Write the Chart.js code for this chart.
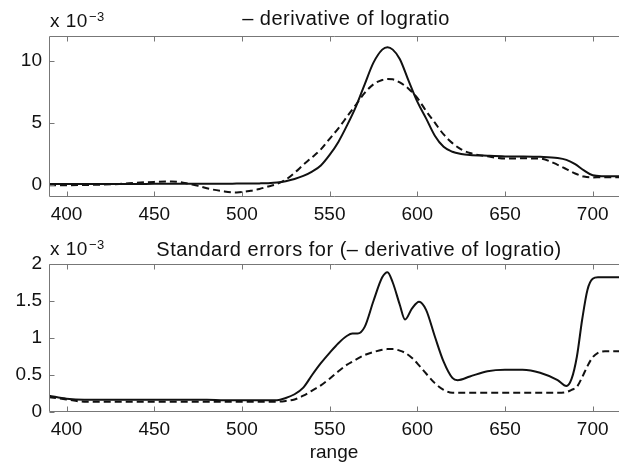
<!DOCTYPE html>
<html>
<head>
<meta charset="utf-8">
<script src="https://cdn.jsdelivr.net/npm/chart.js@4/dist/chart.umd.min.js"></script>
<style>
  html, body { margin: 0; padding: 0; background: #fff; }
  #wrap { position: relative; width: 619px; height: 464px; }
  canvas { position: absolute; left: 0; }
</style>
</head>
<body>
<div id="wrap">
  <canvas id="chartTop" width="619" height="235" style="top:0"></canvas>
  <canvas id="chartBottom" width="619" height="244" style="top:220px"></canvas>
</div>
<script>
// wavelengths (range) and values in units of 10^-3
const topX = [390, 400, 410, 420, 430, 440, 450, 460, 465, 470,
              475, 480, 490, 497, 505, 510, 515, 520, 525, 530,
              535, 540, 545, 550, 555, 560, 565, 570, 575, 580,
              583, 586, 590, 595, 600, 605, 610, 615, 620, 625,
              630, 640, 650, 660, 670, 680, 685, 690, 695, 700,
              705, 715];
const topSolid = [0.05, 0.05, 0.05, 0.05, 0.05, 0.05, 0.06, 0.06, 0.06, 0.06,
                  0.07, 0.07, 0.07, 0.08, 0.09, 0.10, 0.12, 0.17, 0.28, 0.45,
                  0.70, 1.05, 1.55, 2.4, 3.45, 4.80, 6.30, 8.10, 9.85, 10.9,
                  11.1, 10.9, 10.15, 8.4, 6.7, 5.35, 3.95, 3.05, 2.65, 2.48,
                  2.40, 2.33, 2.28, 2.27, 2.24, 2.15, 2.00, 1.65, 1.15, 0.75,
                  0.68, 0.68];
const topDashed = [-0.05, -0.05, -0.03, 0.0, 0.05, 0.15, 0.22, 0.25, 0.2, 0.05,
                   -0.1, -0.3, -0.55, -0.63, -0.5, -0.35, -0.15, 0.05, 0.4, 0.95,
                   1.6, 2.2, 2.85, 3.7, 4.55, 5.5, 6.45, 7.4, 8.1, 8.45,
                   8.53, 8.5, 8.25, 7.75, 7.0, 5.95, 5.0, 4.05, 3.35, 2.85,
                   2.55, 2.28, 2.1, 2.12, 2.1, 1.6, 1.25, 0.9, 0.65, 0.58,
                   0.6, 0.6];

const botX = [390, 400, 410, 420, 430, 440, 450, 460, 470, 480,
              490, 500, 510, 520, 525, 530, 535, 540, 545, 550,
              555, 560, 563, 566, 570, 575, 580, 583, 586, 590,
              593, 597, 601, 605, 610, 615, 620, 623, 630, 640,
              650, 660, 670, 680, 685, 688, 691, 694, 697, 700,
              703, 707, 715];
const botSolid = [0.22, 0.18, 0.165, 0.165, 0.165, 0.165, 0.165, 0.165, 0.165, 0.165,
                  0.16, 0.16, 0.16, 0.16, 0.19, 0.24, 0.33, 0.5, 0.66, 0.8,
                  0.93, 1.03, 1.06, 1.06, 1.15, 1.5, 1.82, 1.89, 1.75, 1.45,
                  1.25, 1.4, 1.49, 1.38, 1.02, 0.68, 0.46, 0.43, 0.48, 0.55,
                  0.57, 0.57, 0.53, 0.43, 0.35, 0.45, 0.75, 1.25, 1.65, 1.8,
                  1.82, 1.82, 1.82];
const botDashed = [0.2, 0.17, 0.14, 0.14, 0.14, 0.14, 0.14, 0.14, 0.14, 0.14,
                   0.14, 0.14, 0.14, 0.14, 0.15, 0.17, 0.22, 0.29, 0.36, 0.45,
                   0.55, 0.64, 0.68, 0.72, 0.77, 0.81, 0.84, 0.85, 0.85, 0.83,
                   0.8, 0.73, 0.63, 0.52, 0.39, 0.3, 0.26, 0.26, 0.26, 0.26,
                   0.26, 0.26, 0.26, 0.26, 0.27, 0.3, 0.34, 0.47, 0.62, 0.74,
                   0.8, 0.82, 0.82];

const xTicks = [400, 450, 500, 550, 600, 650, 700];
const topYTicks = [0, 5, 10];
const botYTicks = [0, 0.5, 1, 1.5, 2];

const FONT = '"Liberation Sans", Arial, sans-serif';
const AXIS = '#777';
const INK = '#111';
const TICK = 5;

Chart.defaults.font.family = FONT;
Chart.defaults.font.size = 19;
Chart.defaults.color = INK;

function pts(xs, ys) {
    return xs.map((x, i) => ({ x: x, y: ys[i] }));
}

// box on top/left/bottom + matlab style ticks pointing inwards
const frame = {
    id: 'frame',
    afterDatasetsDraw(chart) {
        const { ctx, chartArea: a } = chart;
        const xs = chart.scales.x, ys = chart.scales.y;
        const L = Math.round(a.left) + 0.5;
        const T = Math.round(a.top) + 0.5;
        const B = Math.round(a.bottom) - 0.5;
        ctx.save();
        ctx.strokeStyle = AXIS;
        ctx.lineWidth = 1;
        ctx.beginPath();
        ctx.moveTo(a.right + 2, T);
        ctx.lineTo(L, T);
        ctx.lineTo(L, B);
        ctx.lineTo(a.right + 2, B);
        xs.ticks.forEach(t => {
            const px = Math.round(xs.getPixelForValue(t.value)) + 0.5;
            ctx.moveTo(px, B); ctx.lineTo(px, B - TICK);
            ctx.moveTo(px, T); ctx.lineTo(px, T + TICK);
        });
        ys.ticks.forEach(t => {
            const py = Math.round(ys.getPixelForValue(t.value)) + 0.5;
            ctx.moveTo(L, py); ctx.lineTo(L + TICK, py);
        });
        ctx.stroke();
        ctx.restore();
    }
};

// panel title and the "x 10^-3" multiplier
const header = {
    id: 'header',
    afterDraw(chart, args, o) {
        const ctx = chart.ctx;
        ctx.save();
        ctx.fillStyle = INK;
        ctx.textBaseline = 'alphabetic';
        ctx.letterSpacing = '0.5px';
        ctx.font = '20px ' + FONT;
        ctx.textAlign = 'center';
        ctx.fillText(o.text, o.x, o.y);
        ctx.textAlign = 'left';
        ctx.font = '19px ' + FONT;
        ctx.fillText('x 10', 50, o.ey);
        const w = ctx.measureText('x 10').width;
        ctx.font = '13px ' + FONT;
        ctx.fillText('\u22123', 50 + w + 1, o.ey - 6);
        ctx.restore();
    }
};

function makeChart(id, xs, solid, dashed, yMin, yMax, yTicks, xAxisH, padTop, tickPad, head, xTitle) {
    return new Chart(document.getElementById(id), {
        type: 'line',
        data: {
            datasets: [{
                data: pts(xs, solid),
                borderColor: INK,
                borderWidth: 2,
                pointRadius: 0,
                cubicInterpolationMode: 'monotone',
                fill: false
            }, {
                data: pts(xs, dashed),
                borderColor: INK,
                borderWidth: 2,
                borderDash: [7, 4],
                pointRadius: 0,
                cubicInterpolationMode: 'monotone',
                fill: false
            }]
        },
        options: {
            responsive: false,
            devicePixelRatio: 1,
            animation: false,
            layout: { padding: { top: padTop, left: 0, right: 0, bottom: 0 } },
            scales: {
                x: {
                    type: 'linear',
                    min: 390,
                    max: 715,
                    grid: { display: false, drawTicks: false },
                    border: { display: false },
                    ticks: { padding: tickPad, maxRotation: 0, autoSkip: false },
                    afterBuildTicks: s => { s.ticks = xTicks.map(v => ({ value: v })); },
                    afterFit: s => { s.height = xAxisH; },
                    title: {
                        display: !!xTitle,
                        text: xTitle || '',
                        font: { size: 19 },
                        padding: { top: 0, bottom: 0 }
                    }
                },
                y: {
                    type: 'linear',
                    min: yMin,
                    max: yMax,
                    grid: { display: false, drawTicks: false },
                    border: { display: false },
                    ticks: { padding: 7, callback: v => String(v) },
                    afterBuildTicks: s => { s.ticks = yTicks.map(v => ({ value: v })); },
                    afterFit: s => { s.width = 49; }
                }
            },
            plugins: {
                legend: { display: false },
                tooltip: { enabled: false },
                header: head
            }
        },
        plugins: [frame, header]
    });
}

makeChart('chartTop', topX, topSolid, topDashed, -1, 12, topYTicks, 38, 36, 6,
    { text: '\u2013 derivative of logratio', x: 346, y: 25, ey: 27 }, null);

makeChart('chartBottom', botX, botSolid, botDashed, 0, 2, botYTicks, 52, 44, 6,
    { text: 'Standard errors for (\u2013 derivative of logratio)', x: 359, y: 36, ey: 35 }, 'range');
</script>
</body>
</html>
